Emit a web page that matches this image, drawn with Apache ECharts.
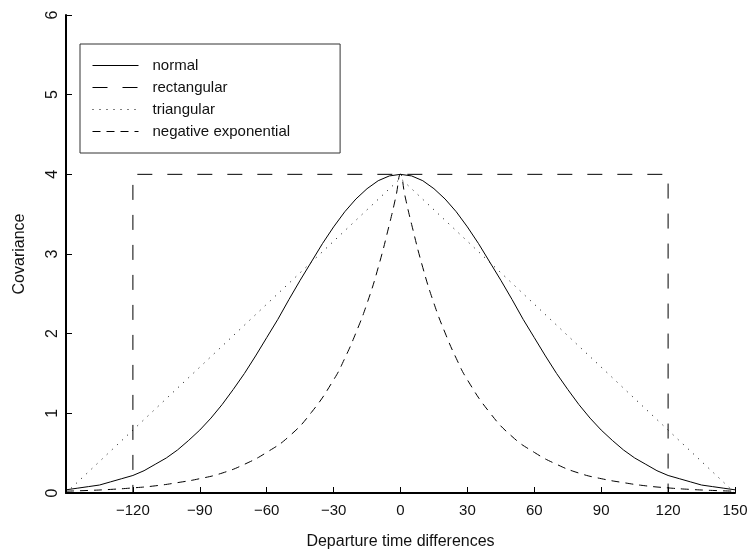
<!DOCTYPE html>
<html>
<head>
<meta charset="utf-8">
<script src="https://cdn.jsdelivr.net/npm/echarts@6/dist/echarts.min.js"></script>
<style>
  html, body { margin: 0; padding: 0; background: #fff; }
  #chart { width: 756px; height: 556px; }
</style>
</head>
<body>
<div id="chart"></div>
<script>
// departure time differences (x) and covariance (y) for each curve
const xNormal = [-150, -145, -140, -135, -130, -125, -120, -115, -110, -105, -100, -95, -90, -85, -80, -75,
  -70, -65, -60, -55, -50, -45, -40, -35, -30, -25, -20, -15, -10, -5, 0,
  5, 10, 15, 20, 25, 30, 35, 40, 45, 50, 55, 60, 65, 70, 75,
  80, 85, 90, 95, 100, 105, 110, 115, 120, 125, 130, 135, 140, 145, 150];
const yNormal = [0.04, 0.06, 0.08, 0.10, 0.14, 0.18, 0.22, 0.28, 0.36, 0.44, 0.54, 0.66, 0.79, 0.94, 1.11, 1.30,
  1.50, 1.72, 1.95, 2.18, 2.43, 2.67, 2.90, 3.13, 3.34, 3.53, 3.69, 3.82, 3.92, 3.98, 4.0,
  3.98, 3.92, 3.82, 3.69, 3.53, 3.34, 3.13, 2.90, 2.67, 2.43, 2.18, 1.95, 1.72, 1.50, 1.30,
  1.11, 0.94, 0.79, 0.66, 0.54, 0.44, 0.36, 0.28, 0.22, 0.18, 0.14, 0.10, 0.08, 0.06, 0.04];

const xRect = [-150, -120, -120, 120, 120, 150];
const yRect = [0, 0, 4, 4, 0, 0];

const xTri = [-150, 0, 150];
const yTri = [0, 3.95, 0];

const xExp = [-150, -140, -130, -120, -110, -100, -90, -80, -70, -60, -50, -40, -30, -25, -20, -15, -10, -5, -2, 0,
  2, 5, 10, 15, 20, 25, 30, 40, 50, 60, 70, 80, 90, 100, 110, 120, 130, 140, 150];
const yExp = [0.023, 0.032, 0.045, 0.064, 0.09, 0.13, 0.18, 0.25, 0.36, 0.51, 0.71, 1.01, 1.42, 1.69, 2.01, 2.38, 2.83, 3.37, 3.73, 4.0,
  3.73, 3.37, 2.83, 2.38, 2.01, 1.69, 1.42, 1.01, 0.71, 0.51, 0.36, 0.25, 0.18, 0.13, 0.09, 0.064, 0.045, 0.032, 0.023];

const seriesNames = ["normal", "rectangular", "triangular", "negative exponential"];
const dashTypes = ["solid", [15, 15], [1, 6], [8, 6]];

const zip = (xs, ys) => xs.map((x, i) => [x, ys[i]]);
const font = "Liberation Sans";

const chart = echarts.init(document.getElementById("chart"), null, { renderer: "canvas" });

function lineSeries(i, data, smooth) {
    return {
        name: seriesNames[i],
        type: "line",
        data: data,
        symbol: "none",
        smooth: smooth,
        animation: false,
        lineStyle: { color: "#000", width: 1, type: dashTypes[i] },
        itemStyle: { color: "#000" }
    };
}

chart.setOption({
    animation: false,
    grid: { left: 66, right: 21, top: 15, bottom: 63 },
    legend: {
        orient: "vertical",
        left: 80,
        top: 44,
        padding: [14, 50, 14, 12],
        itemWidth: 46,
        itemHeight: 14,
        itemGap: 7,
        borderColor: "#333",
        borderWidth: 1,
        itemStyle: { opacity: 0 },
        textStyle: { fontFamily: font, fontSize: 15, lineHeight: 14, color: "#111", padding: [0, 0, 0, 9] },
        data: seriesNames.map((n, i) => ({
            name: n,
            lineStyle: { color: "#000", width: 1, type: dashTypes[i] }
        }))
    },
    xAxis: {
        type: "value",
        min: -150,
        max: 150,
        interval: 30,
        name: "Departure time differences",
        nameLocation: "middle",
        nameGap: 41,
        nameTextStyle: { fontFamily: font, fontSize: 16, color: "#111" },
        axisLine: { onZero: false, lineStyle: { color: "#000", width: 2 } },
        axisTick: { inside: true, length: 6, lineStyle: { color: "#000", width: 1 } },
        axisLabel: {
            showMinLabel: false,
            fontFamily: font,
            fontSize: 15,
            color: "#111",
            margin: 10,
            formatter: v => (v < 0 ? "\u2212" + Math.abs(v) : String(v))
        },
        splitLine: { show: false }
    },
    yAxis: {
        type: "value",
        min: 0,
        max: 6,
        interval: 1,
        name: "Covariance",
        nameLocation: "middle",
        nameGap: 38,
        nameTextStyle: { fontFamily: font, fontSize: 16, color: "#111" },
        axisLine: { show: true, onZero: false, lineStyle: { color: "#000", width: 2 } },
        axisTick: { show: true, inside: true, length: 6, lineStyle: { color: "#000", width: 1 } },
        axisLabel: { rotate: 90, fontFamily: font, fontSize: 16, color: "#111", margin: 5 },
        splitLine: { show: false }
    },
    series: [
        lineSeries(0, zip(xNormal, yNormal), false),
        lineSeries(1, zip(xRect, yRect), false),
        lineSeries(2, zip(xTri, yTri), false),
        lineSeries(3, zip(xExp, yExp), true)
    ]
});
</script>
</body>
</html>
